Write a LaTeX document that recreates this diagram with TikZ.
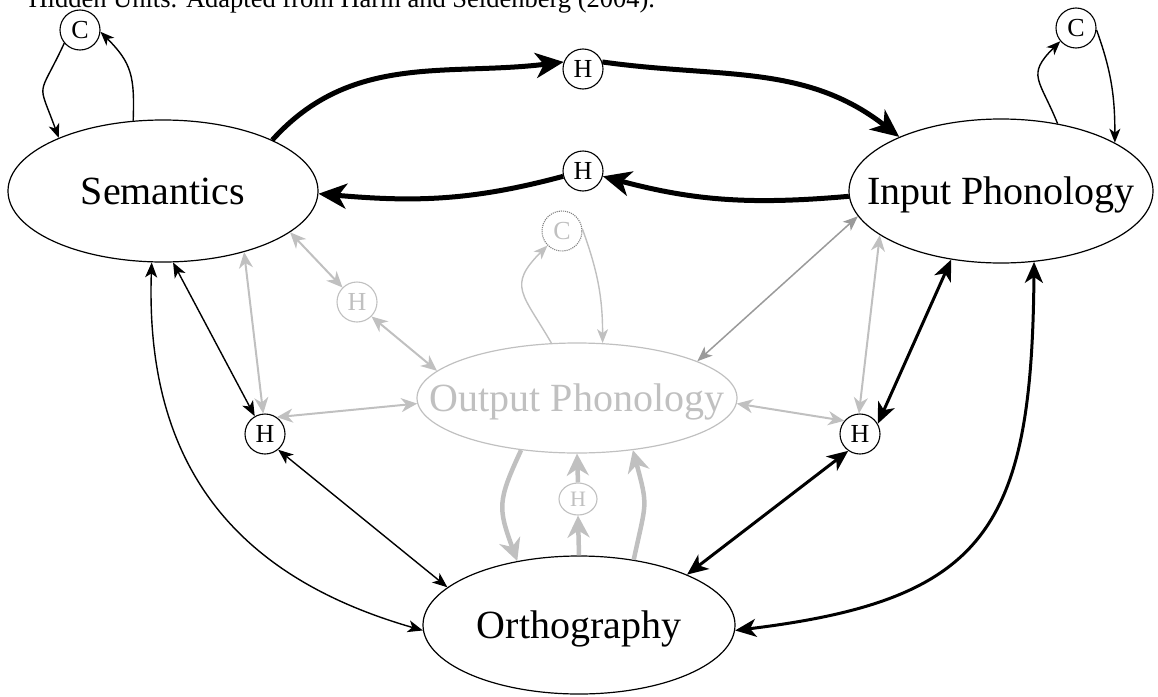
\documentclass[tikz,border=0pt]{standalone}
\usepackage{fontspec}
\setmainfont{Liberation Serif}
\usetikzlibrary{arrows.meta, shapes.geometric}

\definecolor{fadegray}{HTML}{C0C0C0}
\definecolor{midgray}{HTML}{9A9A9A}

\begin{document}
\begin{tikzpicture}[
    x = 1pt, y = 1pt,
    %
    layer/.style = {draw, ellipse, line width = 1.2pt,
      inner xsep = -60pt, inner ysep = 0pt,
      text height = 31pt, text depth = 5pt,
      font = \fontsize{40}{48}\selectfont},
    unit/.style = {draw, circle, line width = 1.1pt,
      inner sep = 0pt, minimum size = 40pt,
      font = \fontsize{26}{30}\selectfont},
    faded/.style = {draw = fadegray, text = fadegray},
    %
    thin link/.style = {black, line width = 1.4pt,
      >={Stealth[length = 15pt, width = 12pt, inset = 4pt]}},
    mid link/.style = {black, line width = 3pt,
      >={Stealth[length = 21pt, width = 18pt, inset = 6pt]}},
    thick link/.style = {black, line width = 5pt,
      >={Stealth[length = 28pt, width = 25pt, inset = 8pt]}},
    grey link/.style = {fadegray, line width = 2pt,
      >={Stealth[length = 16pt, width = 14pt, inset = 5pt]}},
    dark link/.style = {midgray, line width = 1.5pt,
      >={Stealth[length = 15pt, width = 12pt, inset = 4pt]}},
    loop link/.style = {line width = 1.4pt,
      >={Stealth[length = 14pt, width = 11pt, inset = 4pt]}},
    wide link/.style = {fadegray, line width = 4.5pt,
      >={Stealth[length = 22pt, width = 22pt, inset = 7pt]}},
    ]

    \useasboundingbox (0, 0) rectangle (1158, -696);
    \clip (0, 0) rectangle (1158, -696);

    \node at (25, -8)
    [anchor = base west, font = \fontsize{26.5}{30}\selectfont,
      name = caption] {Hidden Units. Adapted from Harm and Seidenberg (2004).};

    % layers
    \node at (163, -191)
    [layer, minimum width = 310pt, minimum height = 142pt,
      name = sem] {Semantics};
    \node at (1001, -191)
    [layer, minimum width = 304pt, minimum height = 144pt,
      name = inphon] {Input Phonology};
    \node at (577, -398)
    [layer, faded, minimum width = 320pt, minimum height = 110pt,
      name = outphon] {Output Phonology};
    \node at (579, -625)
    [layer, minimum width = 312pt, minimum height = 138pt,
      name = orth] {Orthography};

    % cleanup and hidden units
    \node at (80, -30) [unit, name = C_sem] {C};
    \node at (1076, -28) [unit, name = C_in] {C};
    \node at (562, -231)
    [unit, faded, draw = gray, densely dotted, name = C_out] {C};

    \node at (583, -69) [unit, name = H_fwd] {H};
    \node at (583, -171) [unit, name = H_back] {H};
    \node at (265, -434) [unit, name = H_os] {H};
    \node at (860, -434) [unit, name = H_op] {H};
    \node at (357, -302) [unit, faded, name = H_so] {H};
    \node at (578, -499)
    [unit, faded, ellipse, minimum width = 38pt, minimum height = 32pt,
      font = \fontsize{22}{26}\selectfont, name = H_oo] {H};

    % semantics <-> input phonology
    \draw [thick link, ->] (sem.25) to [out = 48, in = 187] (H_fwd.160);
    \draw [thick link, ->] (H_fwd.20) to [out = -8, in = 142] (inphon.152);
    \draw [thick link, ->] (inphon.182) to [out = 185, in = -15] (H_back.-15);
    \draw [thick link, ->] (H_back.195) to [out = 195, in = -5] (sem.-1);

    % cleanup loops
    \draw [loop link, ->] (C_sem.220)
    to [out = 245, in = 110, looseness = 1.7] (sem.153);
    \draw [loop link, ->] (sem.113)
    to [out = 88, in = -45, looseness = 1.2] (C_sem.-5);
    \draw [loop link, ->] (inphon.50)
    to [out = 112, in = 225, looseness = 1.5] (C_in.220);
    \draw [loop link, ->] (C_in.-5) to [out = -70, in = 90] (inphon.23);
    \draw [loop link, fadegray, ->] (outphon.115)
    to [out = 120, in = 225, looseness = 1.5] (C_out.225);
    \draw [loop link, fadegray, ->] (C_out.5) to [out = -70, in = 90] (outphon.65);

    % semantics <-> orthography
    \draw [thin link, <->] (sem.278) -- (H_os.120);
    \draw [grey link, <->] (sem.323) -- (H_os.95);
    \draw [grey link, <->] (sem.-18) -- (H_so.135);
    \draw [grey link, <->] (H_so.-45) -- (outphon.169);
    \draw [grey link, <->] (H_os.55) -- (outphon.182);
    \draw [thin link, <->] (H_os.-50) -- (orth.164);
    \draw [thin link, <->] (sem.261)
    .. controls (145, -460) and (230, -575) .. (orth.182);

    % input phonology <-> orthography
    \draw [mid link, <->] (inphon.234) -- (H_op.30);
    \draw [grey link, <->] (inphon.200) -- (H_op.93);
    \draw [grey link, <->] (outphon.358) -- (H_op.140);
    \draw [dark link, <->] (inphon.190) -- (outphon.17);
    \draw [mid link, <->] (H_op.235) -- (orth.25);
    \draw [mid link, <->] (inphon.295)
    .. controls (1032, -530) and (985, -600) .. (orth.-2);

    % orthography -> output phonology
    \draw [wide link, ->] (outphon.223)
    to [out = 245, in = 110, looseness = 1.3] (orth.134);
    \draw [wide link, ->] (orth.north) -- (H_oo.south);
    \draw [wide link, ->] (H_oo.north) -- (outphon.south);
    \draw [wide link, ->] (orth.50)
    to [out = 78, in = -75, looseness = 1.4] (outphon.317);

  \end{tikzpicture}
\end{document}
